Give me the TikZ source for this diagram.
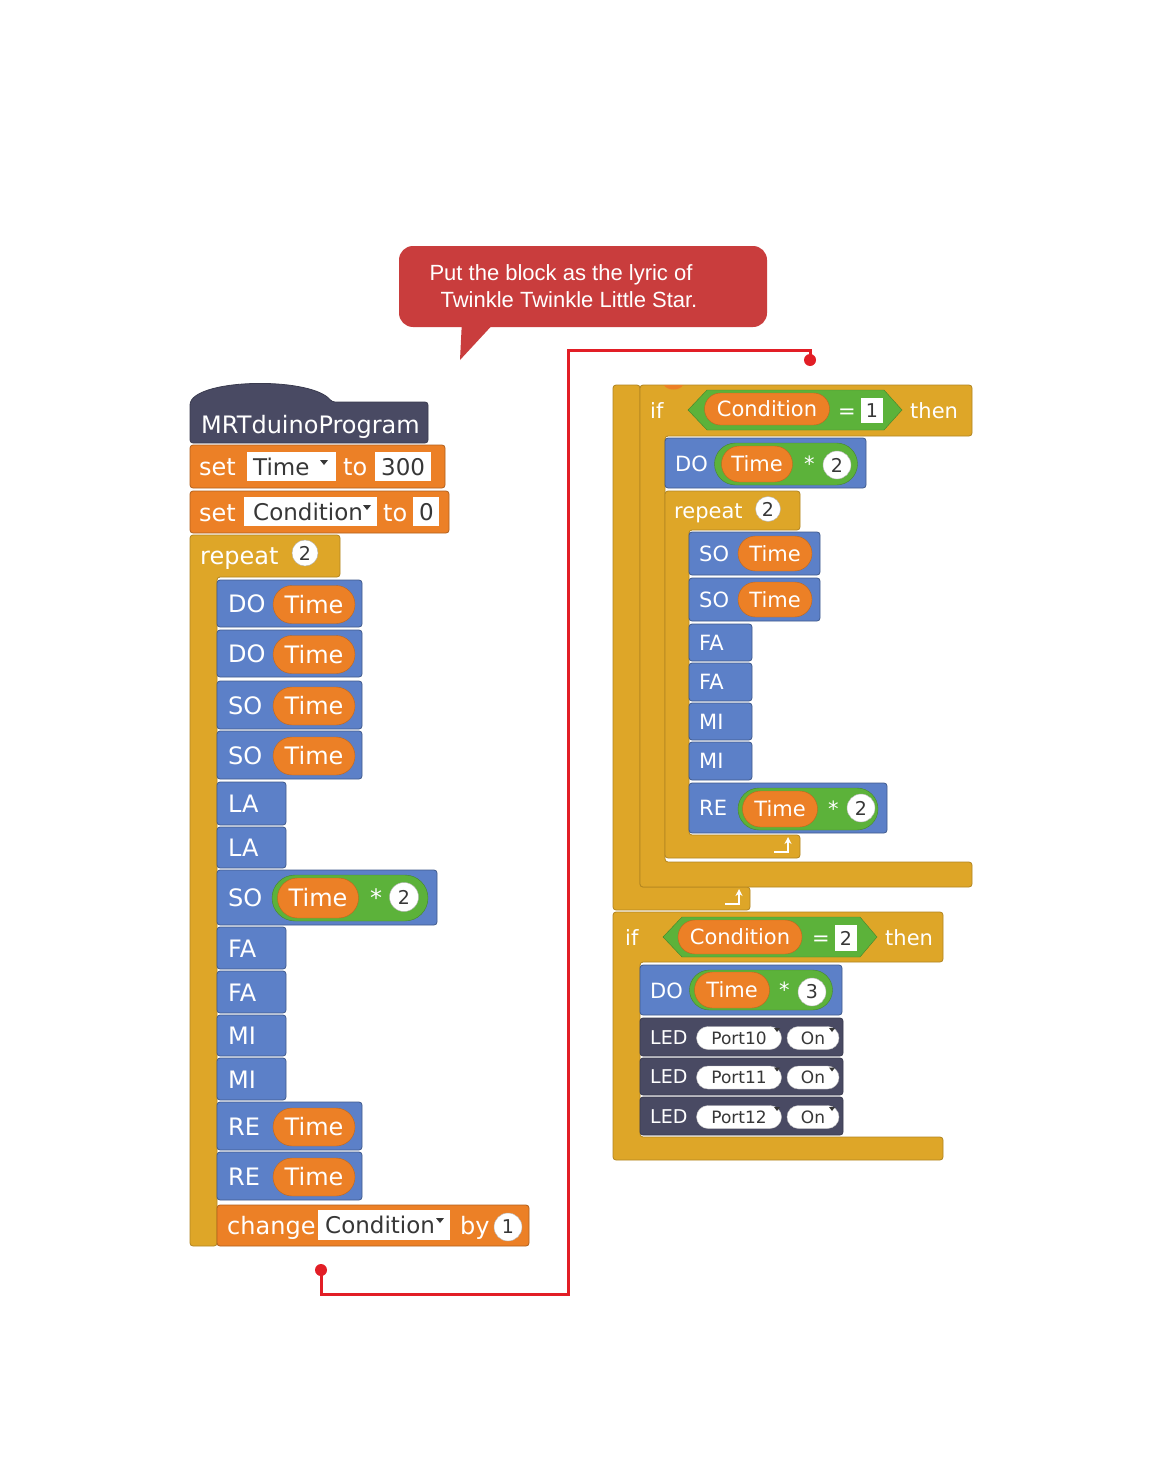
\documentclass[tikz,border=0pt]{standalone}
\usepackage{fontspec}
\usepackage{xcolor}
\usetikzlibrary{arrows.meta, shapes.misc}
\newfontfamily\blockfont{DejaVu Sans}
\newfontfamily\notefont{Liberation Sans}
\newcommand\blkfnt{\blockfont\fontsize{24}{28}\selectfont}
\newcommand\blkfnts{\blockfont\fontsize{21}{24}\selectfont}
\newcommand\fldfnt{\blockfont\fontsize{23}{26}\selectfont}
\newcommand\numfnt{\blockfont\fontsize{19}{22}\selectfont}
\newcommand\ledfnt{\blockfont\fontsize{17}{20}\selectfont}
\definecolor{hatslate}{RGB}{73, 74, 99}
\definecolor{varorange}{RGB}{236, 128, 38}
\definecolor{ctrlgold}{RGB}{222, 166, 40}
\definecolor{noteblue}{RGB}{92, 128, 200}
\definecolor{opgreen}{RGB}{92, 178, 58}
\definecolor{calloutred}{RGB}{201, 61, 61}
\definecolor{linkred}{RGB}{226, 30, 38}
\definecolor{fieldgray}{RGB}{55, 55, 55}

\begin{document}
\begin{tikzpicture}[x=1pt, y=-1pt,
    blk/.style={rounded corners=3pt, line width=0.8pt},
    lbl/.style={anchor=base west, inner sep=0pt, text=white, font=\blkfnt},
    lbls/.style={anchor=base west, inner sep=0pt, text=white, font=\blkfnts},
    fld/.style={anchor=base west, inner sep=0pt, text=fieldgray, font=\fldfnt},
    pill/.style={rounded rectangle, fill=varorange, draw=varorange!80!black,
      text=white, inner sep=0pt, font=\blkfnt},
    oppill/.style={rounded rectangle, fill=opgreen, draw=opgreen!75!black, inner sep=0pt},
    wpill/.style={rounded rectangle, fill=white, draw=gray!50, inner sep=0pt,
      text=fieldgray, font=\ledfnt},
    numdot/.style={circle, fill=white, draw=gray!60, inner sep=0pt,
      text=fieldgray, font=\numfnt},
    loopback/.style={white, line width=1.8pt, -{Stealth[length=7pt, width=7pt]}}]

    \path[use as bounding box, fill=white] (0,0) rectangle (1163,1458);

    % Callout
    \fill[calloutred, rounded corners=14pt] (399,246) rectangle (767,327);
    \fill[calloutred] (462,320) -- (497,320) -- (460,360) -- cycle;
    \node[anchor=base, inner sep=0pt, text=white, font=\notefont\fontsize{22}{26}\selectfont]
      (note1) at (561,280) {Put the block as the lyric of};
    \node[anchor=base, inner sep=0pt, text=white, font=\notefont\fontsize{22}{26}\selectfont]
      (note2) at (569,307) {Twinkle Twinkle Little Star.};

    % Link between the two stacks
    \coordinate (endA) at (810,360);
    \coordinate (endB) at (321,1270);
    \draw[linkred, line width=3pt] (endA) -- ++(0,-10) -| (568,1294) -| (endB);
    \fill[linkred] (endA) circle[radius=6pt];
    \fill[linkred] (endB) circle[radius=6pt];

    % ---------- Left stack ----------
    % Hat block
    \fill[hatslate, draw=hatslate!80!black, line width=0.8pt, rounded corners=3pt]
      (190,443) -- (190,402) .. controls (208,378) and (312,378) .. (332,402)
      -- (428,402) -- (428,443) -- cycle;
    \node[lbl] (hat) at (201,433) {MRTduinoProgram};

    % set blocks
    \fill[varorange, draw=varorange!75!black, blk] (190,445) rectangle (445,488);
    \node[lbl] (set1) at (199,475) {set};
    \fill[white] (247,452) rectangle (336,481);
    \node[fld] (var1) at (253,475) {Time};
    \node[lbl] (to1) at (343,475) {to};
    \fill[white] (375,452) rectangle (431,481);
    \node[fld] (val1) at (381,475) {300};

    \fill[varorange, draw=varorange!75!black, blk] (190,491) rectangle (449,533);
    \node[lbl] (set2) at (199,521) {set};
    \fill[white] (244,497) rectangle (377,526);
    \node[fld] (var2) at (253,520) {Condition};
    \node[lbl] (to2) at (383,521) {to};
    \fill[white] (413,497) rectangle (439,526);
    \node[fld] (val2) at (419,520) {0};

    % repeat C
    \fill[ctrlgold, draw=ctrlgold!80!black, line width=0.8pt, rounded corners=3pt]
      (190,535) -- (340,535) -- (340,577) -- (217,577) -- (217,1246) -- (190,1246) -- cycle;
    \node[lbl] (rep1) at (200,564) {repeat};
    \node[numdot, minimum size=26pt] (rep1n) at (305,553) {2};

    % note blocks with a variable
    \foreach \nm/\t/\b in {DO/580/627, DO/630/677, SO/681/729, SO/731/779,
        RE/1102/1150, RE/1152/1200}{
      \fill[noteblue, draw=noteblue!70!black, blk] (217,\t) rectangle (362,\b);
      \node[lbl] (lnote\t) at (228,{(\t+\b)/2+9}) {\nm};
      \node[pill, minimum width=82pt, minimum height=38pt] (ltime\t)
        at (314,{(\t+\b)/2+1}) {Time};
    }

    % plain note blocks
    \foreach \nm/\t/\b in {LA/782/825, LA/827/868, FA/927/969, FA/971/1013,
        MI/1015/1056, MI/1058/1100}{
      \fill[noteblue, draw=noteblue!70!black, blk] (217,\t) rectangle (286,\b);
      \node[lbl] (lnote\t) at (228,{(\t+\b)/2+9}) {\nm};
    }

    % SO Time * 2
    \fill[noteblue, draw=noteblue!70!black, blk] (217,870) rectangle (437,925);
    \node[lbl] (lnote870) at (228,906) {SO};
    \node[oppill, minimum width=156pt, minimum height=46pt] (lop) at (350,898) {};
    \node[pill, minimum width=81pt, minimum height=40pt] (ltime870) at (318,898) {Time};
    \node[lbl] (lstar) at (370,906) {*};
    \node[numdot, minimum size=29pt] (lopn) at (404,897) {2};

    % change block
    \fill[varorange, draw=varorange!75!black, blk] (217,1205) rectangle (529,1246);
    \node[lbl] (chg) at (227,1234) {change};
    \fill[white] (318,1210) rectangle (450,1240);
    \node[fld] (var3) at (325,1233) {Condition};
    \node[lbl] (by) at (460,1234) {by};
    \node[numdot, minimum size=28pt] (chgn) at (508,1227) {1};

    % dropdown marks
    \foreach \tx/\ty in {324/460, 367/505, 440/1218}{
      \fill[fieldgray] (\tx-4,\ty) -- (\tx+4,\ty) -- (\tx,\ty+5) -- cycle;
    }

    % ---------- Right stack ----------
    % outer loop
    \fill[ctrlgold, draw=ctrlgold!80!black, line width=0.8pt, rounded corners=3pt]
      (613,385) -- (640,385) -- (640,887) -- (750,887) -- (750,910) -- (613,910) -- cycle;
    \draw[loopback] (725,904) -- (739,904) -- (739,889);

    % if Condition = 1
    \fill[ctrlgold, draw=ctrlgold!80!black, line width=0.8pt, rounded corners=3pt]
      (640,385) -- (972,385) -- (972,436) -- (665,436) -- (665,862)
      -- (972,862) -- (972,887) -- (640,887) -- cycle;
    \fill[varorange] (664,385) .. controls (667,391) and (680,391) .. (683,385) -- cycle;
    \node[lbls] (if1) at (650,418) {if};
    \fill[opgreen, draw=opgreen!75!black] (688,410) -- (707,390) -- (884,390)
      -- (902,410) -- (884,430) -- (707,430) -- cycle;
    \node[pill, minimum width=125pt, minimum height=32pt, font=\blkfnts] (cond1) at (767,409) {Condition};
    \node[lbls] (eq1) at (838,418) {=};
    \fill[white] (861,398) rectangle (883,423);
    \node[inner sep=0pt, text=fieldgray, font=\numfnt] (val3) at (872,411) {1};
    \node[lbls] (then1) at (910,418) {then};

    % DO Time * 2
    \fill[noteblue, draw=noteblue!70!black, blk] (665,438) rectangle (866,488);
    \node[lbls] (rnote438) at (675,471) {DO};
    \node[oppill, minimum width=143pt, minimum height=42pt] (rop1) at (786,464) {};
    \node[pill, minimum width=71pt, minimum height=36pt, font=\blkfnts] (rtime438) at (757,464) {Time};
    \node[lbls] (rstar1) at (804,471) {*};
    \node[numdot, minimum size=28pt] (rop1n) at (837,465) {2};

    % inner repeat
    \fill[ctrlgold, draw=ctrlgold!80!black, line width=0.8pt, rounded corners=3pt]
      (665,491) -- (800,491) -- (800,530) -- (689,530) -- (689,835)
      -- (800,835) -- (800,858) -- (665,858) -- cycle;
    \node[lbls] (rep2) at (674,518) {repeat};
    \node[numdot, minimum size=25pt] (rep2n) at (768,509) {2};
    \draw[loopback] (774,852) -- (788,852) -- (788,837);

    \foreach \nm/\t/\b in {SO/532/575, SO/578/621}{
      \fill[noteblue, draw=noteblue!70!black, blk] (689,\t) rectangle (820,\b);
      \node[lbls] (rnote\t) at (699,{(\t+\b)/2+7.5}) {\nm};
      \node[pill, minimum width=74pt, minimum height=35pt, font=\blkfnts] (rtime\t)
        at (775,{(\t+\b)/2}) {Time};
    }
    \foreach \nm/\t/\b in {FA/624/661, FA/663/701, MI/703/740, MI/742/780}{
      \fill[noteblue, draw=noteblue!70!black, blk] (689,\t) rectangle (752,\b);
      \node[lbls] (rnote\t) at (699,{(\t+\b)/2+7.5}) {\nm};
    }

    % RE Time * 2
    \fill[noteblue, draw=noteblue!70!black, blk] (689,783) rectangle (887,833);
    \node[lbls] (rnote783) at (699,815) {RE};
    \node[oppill, minimum width=140pt, minimum height=42pt] (rop2) at (808,809) {};
    \node[pill, minimum width=75pt, minimum height=36pt, font=\blkfnts] (rtime783) at (780,809) {Time};
    \node[lbls] (rstar2) at (828,816) {*};
    \node[numdot, minimum size=28pt] (rop2n) at (861,808) {2};

    % if Condition = 2
    \fill[ctrlgold, draw=ctrlgold!80!black, line width=0.8pt, rounded corners=3pt]
      (613,912) -- (943,912) -- (943,962) -- (640,962) -- (640,1137)
      -- (943,1137) -- (943,1160) -- (613,1160) -- cycle;
    \node[lbls] (if2) at (625,945) {if};
    \fill[opgreen, draw=opgreen!75!black] (663,937) -- (682,917) -- (860,917)
      -- (877,937) -- (860,957) -- (682,957) -- cycle;
    \node[pill, minimum width=124pt, minimum height=34pt, font=\blkfnts] (cond2) at (740,937) {Condition};
    \node[lbls] (eq2) at (812,945) {=};
    \fill[white] (835,925) rectangle (857,951);
    \node[inner sep=0pt, text=fieldgray, font=\numfnt] (val4) at (846,938) {2};
    \node[lbls] (then2) at (885,945) {then};

    % DO Time * 3
    \fill[noteblue, draw=noteblue!70!black, blk] (640,965) rectangle (842,1015);
    \node[lbls] (rnote965) at (650,998) {DO};
    \node[oppill, minimum width=143pt, minimum height=40pt] (rop3) at (761,990) {};
    \node[pill, minimum width=75pt, minimum height=36pt, font=\blkfnts] (rtime965) at (732,990) {Time};
    \node[lbls] (rstar3) at (779,997) {*};
    \node[numdot, minimum size=28pt] (rop3n) at (812,992) {3};

    % LED blocks
    \foreach \pt/\t/\b in {10/1018/1056, 11/1058/1095, 12/1097/1135}{
      \fill[hatslate, draw=hatslate!80!black, blk] (640,\t) rectangle (843,\b);
      \node[anchor=base west, inner sep=0pt, text=white, font=\blockfont\fontsize{19}{22}\selectfont]
        (led\pt) at (650,{(\t+\b)/2+7}) {LED};
      \node[wpill, minimum width=85pt, minimum height=23pt] (port\pt)
        at (739,{(\t+\b)/2+1}) {Port\pt};
      \node[wpill, minimum width=52pt, minimum height=23pt] (sw\pt)
        at (813,{(\t+\b)/2+1}) {On};
      \fill[fieldgray] (774,{(\t+\b)/2-9}) -- (780,{(\t+\b)/2-9}) -- (777,{(\t+\b)/2-5}) -- cycle;
      \fill[fieldgray] (829,{(\t+\b)/2-9}) -- (835,{(\t+\b)/2-9}) -- (832,{(\t+\b)/2-5}) -- cycle;
    }

  \end{tikzpicture}
\end{document}
